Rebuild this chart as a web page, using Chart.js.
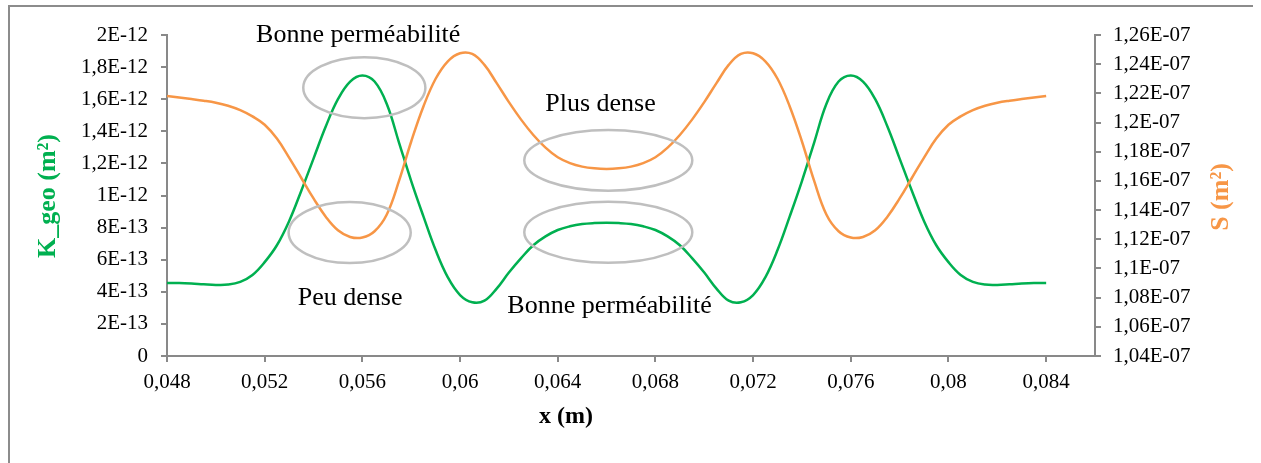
<!DOCTYPE html>
<html>
<head>
<meta charset="utf-8">
<script src="https://cdn.jsdelivr.net/npm/chart.js@4.4.1/dist/chart.umd.min.js"></script>
<style>
  html, body { margin: 0; padding: 0; background: #fff; }
  canvas { display: block; }
</style>
</head>
<body>
<canvas id="kgeo" width="1261" height="463"></canvas>
<script>
// position along the sample (m)
const xValues = [
  0.048, 0.0485, 0.049, 0.0495, 0.05, 0.0505, 0.051, 0.0515, 0.052, 0.0525,
  0.053, 0.0535, 0.054, 0.0545, 0.055, 0.0555, 0.056, 0.0565, 0.057, 0.0575,
  0.058, 0.0585, 0.059, 0.0595, 0.06, 0.0605, 0.061, 0.0615, 0.062, 0.0625,
  0.063, 0.0635, 0.064, 0.0645, 0.065, 0.0655, 0.066, 0.0665, 0.067, 0.0675,
  0.068, 0.0685, 0.069, 0.0695, 0.07, 0.0705, 0.071, 0.0715, 0.072, 0.0725,
  0.073, 0.0735, 0.074, 0.0745, 0.075, 0.0755, 0.076, 0.0765, 0.077, 0.0775,
  0.078, 0.0785, 0.079, 0.0795, 0.08, 0.0805, 0.081, 0.0815, 0.082, 0.0825,
  0.083, 0.0835, 0.084
];

// K_geo (m2)
const kGeo = [
  4.55e-13, 4.55e-13, 4.52e-13, 4.47e-13, 4.43e-13, 4.45e-13, 4.62e-13, 5.05e-13, 5.85e-13, 6.9e-13,
  8.4e-13, 1.03e-12, 1.23e-12, 1.43e-12, 1.60e-12, 1.71e-12, 1.748e-12, 1.71e-12, 1.57e-12, 1.33e-12,
  1.09e-12, 8.7e-13, 6.6e-13, 4.9e-13, 3.8e-13, 3.35e-13, 3.45e-13, 4.2e-13, 5.2e-13, 6.1e-13,
  6.9e-13, 7.45e-13, 7.85e-13, 8.08e-13, 8.22e-13, 8.28e-13, 8.3e-13, 8.28e-13, 8.22e-13, 8.08e-13,
  7.85e-13, 7.45e-13, 6.9e-13, 6.1e-13, 5.2e-13, 4.2e-13, 3.45e-13, 3.35e-13, 3.8e-13, 4.9e-13,
  6.6e-13, 8.7e-13, 1.09e-12, 1.33e-12, 1.57e-12, 1.71e-12, 1.748e-12, 1.71e-12, 1.60e-12, 1.43e-12,
  1.23e-12, 1.03e-12, 8.4e-13, 6.9e-13, 5.85e-13, 5.05e-13, 4.62e-13, 4.45e-13, 4.43e-13, 4.47e-13,
  4.52e-13, 4.55e-13, 4.55e-13
];

// S (m2)
const sArea = [
  1.2182e-7, 1.2171e-7, 1.2161e-7, 1.2150e-7, 1.2136e-7, 1.2115e-7, 1.2085e-7, 1.2042e-7, 1.1985e-7, 1.1890e-7,
  1.1760e-7, 1.1620e-7, 1.1480e-7, 1.1355e-7, 1.1262e-7, 1.1216e-7, 1.1212e-7, 1.1255e-7, 1.1370e-7, 1.1600e-7,
  1.1870e-7, 1.2110e-7, 1.2300e-7, 1.2420e-7, 1.2475e-7, 1.2470e-7, 1.2395e-7, 1.2270e-7, 1.2140e-7, 1.2020e-7,
  1.1915e-7, 1.1828e-7, 1.1762e-7, 1.1722e-7, 1.1698e-7, 1.1686e-7, 1.1682e-7, 1.1686e-7, 1.1698e-7, 1.1722e-7,
  1.1762e-7, 1.1828e-7, 1.1915e-7, 1.2020e-7, 1.2140e-7, 1.2270e-7, 1.2395e-7, 1.2470e-7, 1.2475e-7, 1.2420e-7,
  1.2300e-7, 1.2110e-7, 1.1870e-7, 1.1600e-7, 1.1370e-7, 1.1255e-7, 1.1212e-7, 1.1216e-7, 1.1262e-7, 1.1355e-7,
  1.1480e-7, 1.1620e-7, 1.1760e-7, 1.1890e-7, 1.1985e-7, 1.2042e-7, 1.2085e-7, 1.2115e-7, 1.2136e-7, 1.2150e-7,
  1.2161e-7, 1.2171e-7, 1.2182e-7
];

// axis ticks and their labels
const xTicks = [0.048, 0.052, 0.056, 0.06, 0.064, 0.068, 0.072, 0.076, 0.08, 0.084];
const xTickLabels = ["0,048", "0,052", "0,056", "0,06", "0,064", "0,068", "0,072", "0,076", "0,08", "0,084"];
const kTicks = [0, 2e-13, 4e-13, 6e-13, 8e-13, 1e-12, 1.2e-12, 1.4e-12, 1.6e-12, 1.8e-12, 2e-12];
const kTickLabels = ["0", "2E-13", "4E-13", "6E-13", "8E-13", "1E-12", "1,2E-12", "1,4E-12", "1,6E-12", "1,8E-12", "2E-12"];
const sTicks = [1.04e-7, 1.06e-7, 1.08e-7, 1.1e-7, 1.12e-7, 1.14e-7, 1.16e-7, 1.18e-7, 1.2e-7, 1.22e-7, 1.24e-7, 1.26e-7];
const sTickLabels = ["1,04E-07", "1,06E-07", "1,08E-07", "1,1E-07", "1,12E-07", "1,14E-07", "1,16E-07", "1,18E-07", "1,2E-07", "1,22E-07", "1,24E-07", "1,26E-07"];

// annotations (data coordinates on x / left axis)
const notes = [
  { text: "Bonne perméabilité", x: 0.05583, y: 1.956e-12 },
  { text: "Peu dense", x: 0.0555, y: 3.18e-13 },
  { text: "Plus dense", x: 0.06575, y: 1.526e-12 },
  { text: "Bonne perméabilité", x: 0.06612, y: 2.68e-13 }
];
const rings = [
  { x: 0.05608, y: 1.672e-12, rx: 0.0025, ry: 1.9e-13 },
  { x: 0.05548, y: 7.69e-13, rx: 0.0025, ry: 1.9e-13 },
  { x: 0.06607, y: 1.219e-12, rx: 0.00344, ry: 1.89e-13 },
  { x: 0.06607, y: 7.71e-13, rx: 0.00344, ry: 1.9e-13 }
];

const GREEN = "#00B050";
const ORANGE = "#F79646";
const AXIS = "#898989";
const SERIF = "'Liberation Serif', 'Times New Roman', serif";

function pairs(xs, ys) {
  return xs.map((x, i) => ({ x: x, y: ys[i] }));
}

function fixedTicks(values) {
  return function (scale) {
    scale.ticks = values.map((v) => ({ value: v }));
  };
}

function labelFrom(values, labels) {
  return function (value) {
    let best = 0;
    for (let i = 1; i < values.length; i++) {
      if (Math.abs(values[i] - value) < Math.abs(values[best] - value)) best = i;
    }
    return labels[best];
  };
}

const decorations = {
  id: "decorations",
  beforeDraw(chart) {
    const ctx = chart.ctx;
    ctx.save();
    ctx.fillStyle = "#fff";
    ctx.fillRect(0, 0, chart.width, chart.height);
    ctx.strokeStyle = "#8c8c8c";
    ctx.lineWidth = 2;
    ctx.beginPath();
    ctx.moveTo(9, 463);
    ctx.lineTo(9, 6);
    ctx.lineTo(1253, 6);
    ctx.stroke();
    ctx.restore();
  },
  afterDatasetsDraw(chart) {
    const ctx = chart.ctx;
    const xs = chart.scales.x;
    const ys = chart.scales.yK;
    ctx.save();
    ctx.strokeStyle = "#BFBFBF";
    ctx.lineWidth = 2.5;
    rings.forEach((r) => {
      const cx = xs.getPixelForValue(r.x);
      const cy = ys.getPixelForValue(r.y);
      const rx = xs.getPixelForValue(r.x + r.rx) - cx;
      const ry = cy - ys.getPixelForValue(r.y + r.ry);
      ctx.beginPath();
      ctx.ellipse(cx, cy, rx, ry, 0, 0, Math.PI * 2);
      ctx.stroke();
    });
    ctx.fillStyle = "#000";
    ctx.font = "26px " + SERIF;
    ctx.textAlign = "center";
    ctx.textBaseline = "alphabetic";
    notes.forEach((n) => {
      ctx.fillText(n.text, xs.getPixelForValue(n.x), ys.getPixelForValue(n.y));
    });
    ctx.restore();
  },
  afterDraw(chart) {
    const ctx = chart.ctx;
    ctx.save();
    ctx.font = "bold 24px " + SERIF;
    ctx.textAlign = "center";
    ctx.textBaseline = "middle";
    ctx.fillStyle = "#000";
    ctx.fillText("x (m)", 566, 417);
    ctx.restore();

    ctx.save();
    ctx.font = "bold 26px " + SERIF;
    ctx.textAlign = "center";
    ctx.textBaseline = "middle";
    ctx.translate(48, 196);
    ctx.rotate(-Math.PI / 2);
    ctx.fillStyle = GREEN;
    ctx.fillText("K_geo (m²)", 0, 0);
    ctx.restore();

    ctx.save();
    ctx.font = "bold 26px " + SERIF;
    ctx.textAlign = "center";
    ctx.textBaseline = "middle";
    ctx.translate(1221, 197);
    ctx.rotate(-Math.PI / 2);
    ctx.fillStyle = ORANGE;
    ctx.fillText("S (m²)", 0, 0);
    ctx.restore();
  }
};

const tickFont = { family: SERIF, size: 21 };

new Chart(document.getElementById("kgeo").getContext("2d"), {
  type: "line",
  data: {
    datasets: [
      {
        label: "S",
        data: pairs(xValues, sArea),
        yAxisID: "yS",
        borderColor: ORANGE,
        borderWidth: 2.5,
        pointRadius: 0,
        tension: 0.4,
      },
      {
        label: "K_geo",
        data: pairs(xValues, kGeo),
        yAxisID: "yK",
        borderColor: GREEN,
        borderWidth: 2.5,
        pointRadius: 0,
        tension: 0.4,
      },
    ],
  },
  options: {
    responsive: false,
    animation: false,
    devicePixelRatio: 1,
    layout: { padding: { top: 35, left: 0, right: 0, bottom: 0 } },
    plugins: {
      legend: { display: false },
      tooltip: { enabled: false },
    },
    scales: {
      x: {
        type: "linear",
        min: 0.048,
        max: 0.086,
        afterBuildTicks: fixedTicks(xTicks),
        afterFit(scale) { scale.height = 107; },
        grid: { drawOnChartArea: false, color: AXIS, lineWidth: 2, tickLength: 6 },
        border: { color: AXIS, width: 2 },
        ticks: {
          color: "#000",
          font: tickFont,
          padding: 8,
          maxRotation: 0,
          autoSkip: false,
          callback: labelFrom(xTicks, xTickLabels),
        },
      },
      yK: {
        type: "linear",
        position: "left",
        min: 0,
        max: 2e-12,
        afterBuildTicks: fixedTicks(kTicks),
        afterFit(scale) { scale.width = 167; },
        grid: { drawOnChartArea: false, color: AXIS, lineWidth: 2, tickLength: 6 },
        border: { color: AXIS, width: 2 },
        ticks: {
          color: "#000",
          font: tickFont,
          padding: 13,
          autoSkip: false,
          callback: labelFrom(kTicks, kTickLabels),
        },
      },
      yS: {
        type: "linear",
        position: "right",
        min: 1.04e-7,
        max: 1.26e-7,
        afterBuildTicks: fixedTicks(sTicks),
        afterFit(scale) { scale.width = 166; },
        grid: { drawOnChartArea: false, color: AXIS, lineWidth: 2, tickLength: 6 },
        border: { color: AXIS, width: 2 },
        ticks: {
          color: "#000",
          font: tickFont,
          padding: 12,
          autoSkip: false,
          callback: labelFrom(sTicks, sTickLabels),
        },
      },
    },
  },
  plugins: [decorations],
});
</script>
</body>
</html>
